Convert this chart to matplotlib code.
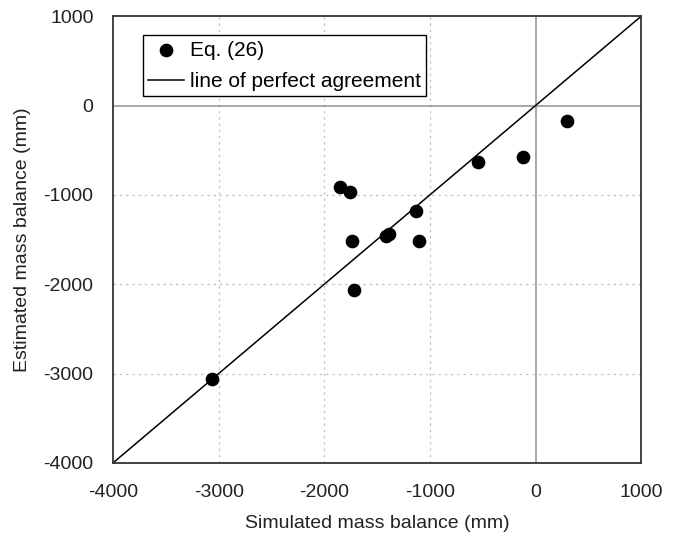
import matplotlib
matplotlib.use("Agg")
import matplotlib.pyplot as plt

plt.rcParams['font.family'] = ['Liberation Sans', 'DejaVu Sans']
plt.rcParams['axes.unicode_minus'] = False

simulated = [-3060, -1850, -1760, -1740, -1720, -1420, -1390, -1130, -1100, -543, -120, 300]
estimated = [-3060, -912, -965, -1515, -2060, -1465, -1440, -1175, -1515, -635, -580, -168]
line_x = [-4000, 1000]
line_y = [-4000, 1000]
xticks = [-4000, -3000, -2000, -1000, 0, 1000]
yticks = [-4000, -3000, -2000, -1000, 0, 1000]

fig = plt.figure(figsize=(6.77, 5.42), dpi=100)
ax = fig.add_axes([0.167, 0.146, 0.780, 0.824])

for v in [-3000, -2000, -1000]:
    ax.axvline(v, color='#c4c4c4', lw=0.9, ls=(0, (2, 3)), zorder=0)
    ax.axhline(v, color='#c4c4c4', lw=0.9, ls=(0, (2, 3)), zorder=0)
ax.axvline(0, color='#999999', lw=1.2, zorder=1)
ax.axhline(0, color='#999999', lw=1.2, zorder=1)

ax.scatter(simulated, estimated, s=78, color='black', zorder=3, label='Eq. (26)')
ax.plot(line_x, line_y, color='black', lw=1.1, zorder=2, label='line of perfect agreement')

ax.set_xlim(-4000, 1000)
ax.set_ylim(-4000, 1000)
ax.set_xticks(xticks)
ax.set_yticks(yticks)
ax.tick_params(length=0, labelsize=14, colors='#222222')
ax.tick_params(axis='x', pad=15)
ax.tick_params(axis='y', pad=14)
for s in ax.spines.values():
    s.set_linewidth(1.3)
    s.set_color('#333333')

ax.set_xlabel('Simulated mass balance (mm)', fontsize=14, color='#222222', labelpad=10)
ax.set_ylabel('Estimated mass balance (mm)', fontsize=14, color='#222222', labelpad=9)

leg = ax.legend(loc='upper left', bbox_to_anchor=(0.057, 0.957), fontsize=15,
                frameon=True, fancybox=False, edgecolor='black', framealpha=1,
                handlelength=1.7, handletextpad=0.3, borderpad=0.25, labelspacing=0.6,
                borderaxespad=0)
leg.get_frame().set_linewidth(1.0)

fig.savefig('out.png', dpi=100)
